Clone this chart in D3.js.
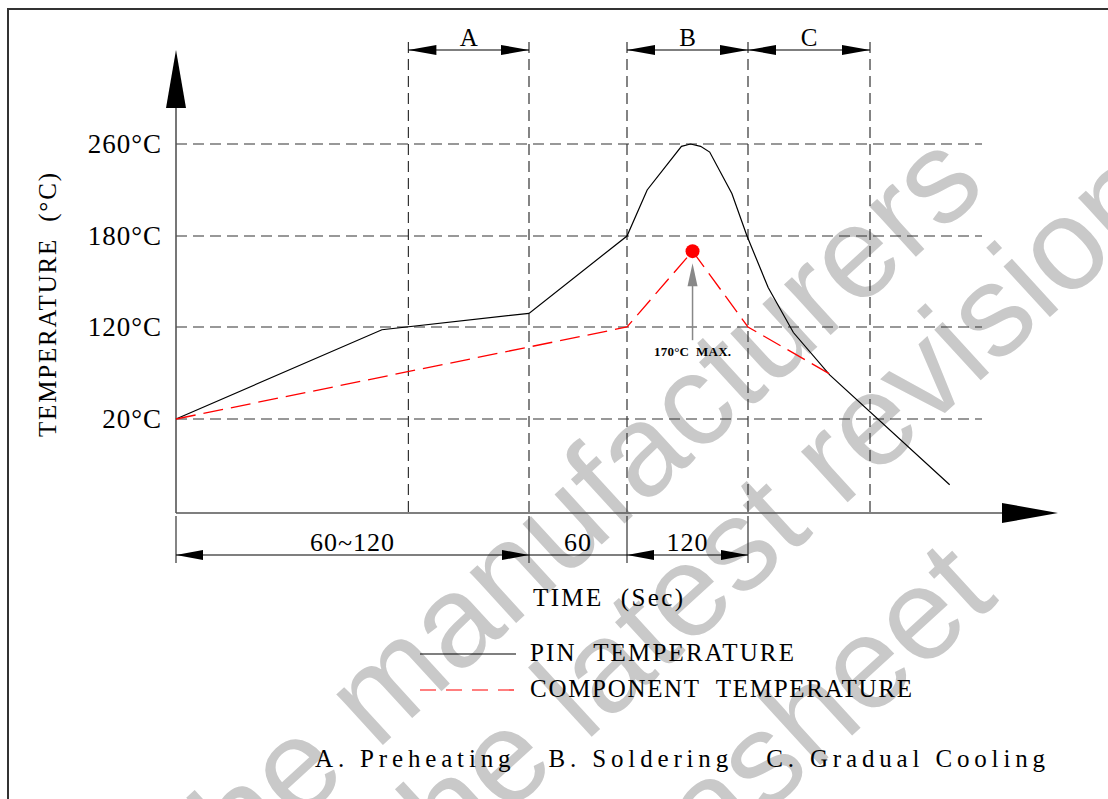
<!DOCTYPE html>
<html>
<head>
<meta charset="utf-8">
<script src="https://cdn.jsdelivr.net/npm/d3@7"></script>
<style>
  html, body { margin: 0; padding: 0; background: #fff; }
  svg { display: block; }
</style>
</head>
<body>
<div id="chart"></div>
<script>
// temperature marks on the left axis (°C)
const tempTicks = [20, 120, 180, 260];
// time breakpoints (s) that carry the dimension lines under the axis
const timeBreaks = [0, 120, 180, 300];

// pin temperature curve (time s, °C)
const pinTemp = [
    { t: 0, v: 20 }, { t: 70, v: 117 }, { t: 120, v: 129 }, { t: 180, v: 180 },
    { t: 200, v: 220 }, { t: 234, v: 258 }, { t: 243, v: 260 }, { t: 253, v: 258 },
    { t: 262, v: 253 }, { t: 284, v: 217 }, { t: 299, v: 180 }, { t: 320, v: 146 },
    { t: 345, v: 114 }, { t: 381, v: 68 }, { t: 500, v: 6 }
];
// component temperature curve (time s, °C)
const componentTemp = [
    { t: 0, v: 20 }, { t: 180, v: 120 }, { t: 245, v: 170 }, { t: 300, v: 120 }, { t: 381, v: 69 }
];

const phases = [
    { label: 'A', from: 79, to: 120 },
    { label: 'B', from: 180, to: 300 },
    { label: 'C', from: 300, to: 421 }
];
const durations = [
    { label: '60~120', from: 0, to: 120 },
    { label: '60', from: 120, to: 180 },
    { label: '120', from: 180, to: 300 }
];
const seriesNames = ['PIN  TEMPERATURE', 'COMPONENT  TEMPERATURE'];
const phaseNotes = ['A. Preheating', 'B. Soldering', 'C. Gradual Cooling'];
const watermarkLines = ['the manufacturers', 'the latest revision', 'datasheet'];

const W = 1108, H = 799;
const serif = '"Liberation Serif", "DejaVu Serif", serif';
const ink = '#333';

const svg = d3.select('#chart').append('svg')
    .attr('width', W)
    .attr('height', H)
    .style('font-family', serif);

// piecewise scales: the drawing is schematic, not to scale
const x = d3.scaleLinear().domain(timeBreaks).range([176, 529, 627, 748]);
const y = d3.scaleLinear().domain([0, ...tempTicks]).range([513, 419, 327, 236, 144]);
const color = d3.scaleOrdinal(seriesNames, ['#000', '#ff0000']);

const x0 = x(0), y0 = y(0);
const gridRight = 982;

// watermark
const wm = svg.append('g')
    .attr('transform', 'rotate(-42.5)')
    .attr('fill', '#c9c9c9')
    .style('font-family', '"Liberation Sans", Arial, sans-serif')
    .style('font-size', '130px');
wm.append('text').attr('x', 601).attr('y', 808).attr('text-anchor', 'end').text(watermarkLines[0]);
wm.append('text').attr('x', -287).attr('y', 943).text(watermarkLines[1]);
wm.append('text').attr('x', 332).attr('y', 1118).attr('text-anchor', 'end').text(watermarkLines[2]);

// frame
svg.append('path')
    .attr('d', `M8,${H} V9 H${W}`)
    .attr('fill', 'none')
    .attr('stroke', ink)
    .attr('stroke-width', 2);

// horizontal grid
svg.append('g').selectAll('line')
    .data(tempTicks)
    .join('line')
    .attr('x1', x0).attr('x2', gridRight)
    .attr('y1', d => y(d)).attr('y2', d => y(d))
    .attr('stroke', ink)
    .attr('stroke-width', 1.2)
    .attr('stroke-dasharray', '11,6');

// phase boundaries
const bounds = [...new Set(phases.flatMap(p => [p.from, p.to]))];
svg.append('g').selectAll('line')
    .data(bounds)
    .join('line')
    .attr('x1', d => x(d)).attr('x2', d => x(d))
    .attr('y1', 42).attr('y2', y0)
    .attr('stroke', ink)
    .attr('stroke-width', 1.2)
    .attr('stroke-dasharray', '11,6');

function arrowHead(g, tipX, tipY, dir, len, half) {
    // dir: 'l', 'r', 'u'
    let pts;
    if (dir === 'l') pts = [[tipX, tipY], [tipX + len, tipY - half], [tipX + len, tipY + half]];
    else if (dir === 'r') pts = [[tipX, tipY], [tipX - len, tipY - half], [tipX - len, tipY + half]];
    else pts = [[tipX, tipY], [tipX - half, tipY + len], [tipX + half, tipY + len]];
    g.append('path').attr('d', d3.line()(pts) + 'Z').attr('fill', '#000');
}

// top dimensions
const topDim = svg.append('g');
const topY = 50;
phases.forEach(p => {
    const a = x(p.from), b = x(p.to);
    topDim.append('line')
        .attr('x1', a).attr('x2', b).attr('y1', topY).attr('y2', topY)
        .attr('stroke', '#000').attr('stroke-width', 1.2);
    arrowHead(topDim, a, topY, 'l', 28, 5);
    arrowHead(topDim, b, topY, 'r', 28, 5);
    topDim.append('text')
        .attr('x', (a + b) / 2).attr('y', topY - 4)
        .attr('text-anchor', 'middle')
        .style('font-size', '25px')
        .text(p.label);
});

// bottom dimensions
const botDim = svg.append('g');
const botY = 555;
botDim.selectAll('line.ext')
    .data(timeBreaks)
    .join('line')
    .attr('class', 'ext')
    .attr('x1', d => x(d)).attr('x2', d => x(d))
    .attr('y1', y0 + 3).attr('y2', 563)
    .attr('stroke', ink).attr('stroke-width', 1.2);
durations.forEach(p => {
    const a = x(p.from), b = x(p.to);
    botDim.append('line')
        .attr('x1', a).attr('x2', b).attr('y1', botY).attr('y2', botY)
        .attr('stroke', '#000').attr('stroke-width', 1.2);
    if (b - a > 110) {
        arrowHead(botDim, a, botY, 'l', 27, 5);
        arrowHead(botDim, b, botY, 'r', 27, 5);
    }
    botDim.append('text')
        .attr('x', (a + b) / 2).attr('y', botY - 4)
        .attr('text-anchor', 'middle')
        .style('font-size', '26px')
        .style('letter-spacing', '1px')
        .text(p.label);
});

// axes
const axes = svg.append('g').attr('stroke', '#555').attr('stroke-width', 1.6);
axes.append('line').attr('x1', x0).attr('x2', x0).attr('y1', y0).attr('y2', 100);
axes.append('line').attr('x1', x0).attr('x2', 1004).attr('y1', y0).attr('y2', y0);
arrowHead(svg, x0, 50, 'u', 58, 10);
arrowHead(svg, 1058, y0, 'r', 56, 10);

const yAxis = svg.append('g')
    .attr('transform', `translate(${x0},0)`)
    .call(d3.axisLeft(y).tickValues(tempTicks).tickFormat(d => `${d}°C`).tickSize(0).tickPadding(14));
yAxis.select('.domain').remove();
yAxis.selectAll('text')
    .attr('fill', '#000')
    .style('font-family', serif)
    .style('font-size', '27px')
    .style('letter-spacing', '1px');

svg.append('text')
    .attr('transform', `translate(56,305) rotate(-90)`)
    .attr('text-anchor', 'middle')
    .attr('textLength', 264)
    .attr('lengthAdjust', 'spacing')
    .style('font-size', '25px')
    .style('white-space', 'pre')
    .text('TEMPERATURE  (°C)');

svg.append('text')
    .attr('x', 608).attr('y', 606)
    .attr('text-anchor', 'middle')
    .attr('textLength', 150)
    .attr('lengthAdjust', 'spacing')
    .style('font-size', '25px')
    .style('white-space', 'pre')
    .text('TIME  (Sec)');

// curves
const line = d3.line().x(d => x(d.t)).y(d => y(d.v));
svg.append('path')
    .attr('d', line(pinTemp))
    .attr('fill', 'none')
    .attr('stroke', color(seriesNames[0]))
    .attr('stroke-width', 1.2);
svg.append('path')
    .attr('d', line(componentTemp))
    .attr('fill', 'none')
    .attr('stroke', color(seriesNames[1]))
    .attr('stroke-width', 1.3)
    .attr('stroke-dasharray', '20,8');

// peak marker and note
const peak = d3.greatest(componentTemp, d => d.v);
const px = x(peak.t), py = y(peak.v);
svg.append('circle').attr('cx', px).attr('cy', py).attr('r', 7).attr('fill', '#ff0000');
svg.append('line')
    .attr('x1', px).attr('x2', px).attr('y1', py + 89).attr('y2', py + 30)
    .attr('stroke', '#888').attr('stroke-width', 1.5);
svg.append('path')
    .attr('d', d3.line()([[px, py + 12], [px - 5, py + 35], [px + 5, py + 35]]) + 'Z')
    .attr('fill', '#888');
svg.append('text')
    .attr('x', px).attr('y', py + 105)
    .attr('text-anchor', 'middle')
    .attr('textLength', 77)
    .attr('lengthAdjust', 'spacing')
    .style('font-size', '13px')
    .style('font-weight', 'bold')
    .style('white-space', 'pre')
    .text(`${peak.v}°C  MAX.`);

// legend
const legend = svg.append('g');
const legendLens = [264, 382];
seriesNames.forEach((name, i) => {
    const ly = 654 + i * 36;
    legend.append('line')
        .attr('x1', 420).attr('x2', 516).attr('y1', ly).attr('y2', ly)
        .attr('stroke', color(name))
        .attr('stroke-width', 1.2)
        .attr('stroke-dasharray', i === 0 ? null : '16,10');
    legend.append('text')
        .attr('x', 530).attr('y', ly + 7)
        .attr('textLength', legendLens[i])
        .attr('lengthAdjust', 'spacing')
        .style('font-size', '25px')
        .style('white-space', 'pre')
        .text(name);
});

svg.append('text')
    .attr('x', 315).attr('y', 767)
    .attr('textLength', 730)
    .attr('lengthAdjust', 'spacing')
    .style('font-size', '25px')
    .style('white-space', 'pre')
    .text(phaseNotes.join('   '));
</script>
</body>
</html>
